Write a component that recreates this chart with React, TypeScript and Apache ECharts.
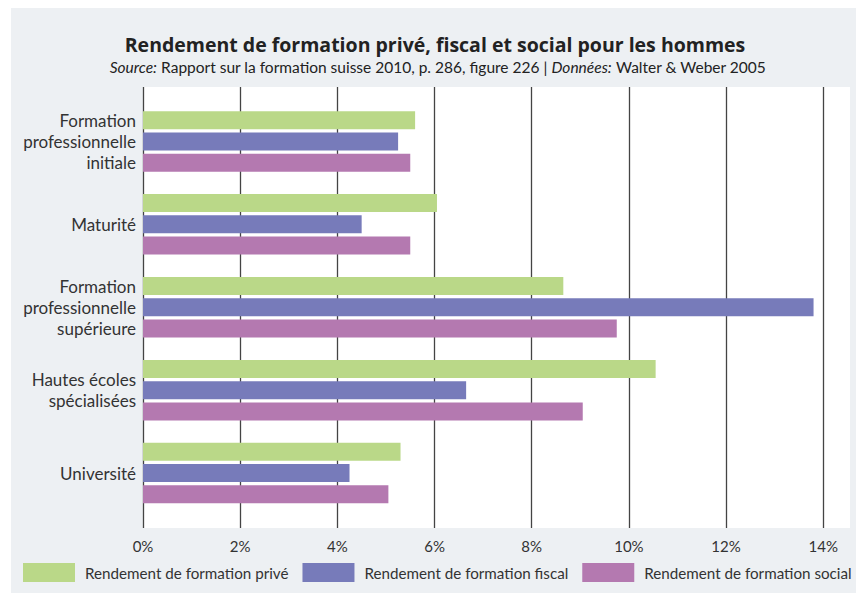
import React, { useEffect, useRef } from "react";
import * as echarts from "echarts";

const categories = [
  "Formation\nprofessionnelle\ninitiale",
  "Maturité",
  "Formation\nprofessionnelle\nsupérieure",
  "Hautes écoles\nspécialisées",
  "Université",
];
const seriesNames = [
  "Rendement de formation privé",
  "Rendement de formation fiscal",
  "Rendement de formation social",
];
const privateReturn = [5.6, 6.05, 8.65, 10.55, 5.3];
const fiscalReturn = [5.25, 4.5, 13.8, 6.65, 4.25];
const socialReturn = [5.5, 5.5, 9.75, 9.05, 5.05];
const colors = ["#bad888", "#777bba", "#b479b0"];

const FONT = "Lato, 'Open Sans', sans-serif";
const TITLE_FONT = "'Open Sans', Lato, sans-serif";

export default function App() {
  const ref = useRef<HTMLDivElement>(null);
  useEffect(() => {
    if (!ref.current) return;
    const chart = echarts.init(ref.current, null, { renderer: "svg" });
    const mkSeries = (name: string, data: number[], color: string) => ({
      name,
      type: "bar",
      xAxisIndex: 1,
      yAxisIndex: 1,
      data,
      barWidth: 18,
      barGap: "18%",
      itemStyle: { color },
      silent: true,
    });
    chart.setOption({
      animation: false,
      backgroundColor: "#ffffff",
      textStyle: { fontFamily: FONT },
      graphic: [
        {
          type: "rect",
          z: -10,
          silent: true,
          shape: { x: 11, y: 8, width: 845, height: 585 },
          style: { fill: "#edf0f3" },
        },
        {
          type: "text",
          x: 435,
          y: 44,
          style: {
            text: "Rendement de formation privé, fiscal et social pour les hommes",
            textAlign: "center",
            textVerticalAlign: "middle",
            font: `bold 19.5px ${TITLE_FONT}`,
            fill: "#222",
          },
        },
        {
          type: "text",
          x: 438,
          y: 67,
          style: {
            text: "{i|Source:} Rapport sur la formation suisse 2010, p. 286, figure 226 | {i|Données:} Walter & Weber 2005",
            textAlign: "center",
            textVerticalAlign: "middle",
            font: `15.5px ${FONT}`,
            fill: "#222",
            rich: {
              i: { fontStyle: "italic", fontSize: 15.5, fontFamily: FONT, fill: "#222" },
            },
          },
        },
      ],
      legend: {
        data: seriesNames,
        left: 23,
        top: 563,
        padding: 0,
        itemWidth: 52,
        itemHeight: 19,
        itemGap: 14,
        icon: "rect",
        selectedMode: false,
        textStyle: { fontSize: 15.2, color: "#333", fontFamily: FONT, padding: [0, 0, 0, 5] },
      },
      grid: [
        {
          left: 143,
          top: 87,
          width: 707,
          height: 441,
          show: true,
          backgroundColor: "#ffffff",
          borderWidth: 0,
        },
        {
          left: 143,
          top: 100,
          width: 707,
          height: 414.5,
        },
      ],
      xAxis: [
        {
          type: "value",
          gridIndex: 0,
          min: 0,
          max: 14.55,
          interval: 2,
          axisLine: { show: false },
          axisTick: { show: false },
          axisLabel: {
            formatter: "{value}%",
            fontSize: 15,
            color: "#333",
            margin: 10,
            showMaxLabel: false,
            fontFamily: FONT,
          },
          splitLine: {
            show: true,
            showMaxLine: false,
            lineStyle: { color: "#444", width: 1.3 },
          },
        },
        {
          type: "value",
          gridIndex: 1,
          min: 0,
          max: 14.55,
          show: false,
        },
      ],
      yAxis: [
        {
          type: "value",
          gridIndex: 0,
          show: false,
        },
        {
          type: "category",
          gridIndex: 1,
          inverse: true,
          data: categories,
          axisLine: { show: false },
          axisTick: { show: false },
          splitLine: { show: false },
          axisLabel: {
            fontSize: 17,
            lineHeight: 21,
            color: "#333",
            margin: 7,
            fontFamily: FONT,
          },
        },
      ],
      series: [
        mkSeries(seriesNames[0], privateReturn, colors[0]),
        mkSeries(seriesNames[1], fiscalReturn, colors[1]),
        mkSeries(seriesNames[2], socialReturn, colors[2]),
      ],
    });
    return () => chart.dispose();
  }, []);
  return (
    <div
      ref={ref}
      style={{ position: "absolute", left: 0, top: 0, width: 856, height: 594 }}
    />
  );
}
